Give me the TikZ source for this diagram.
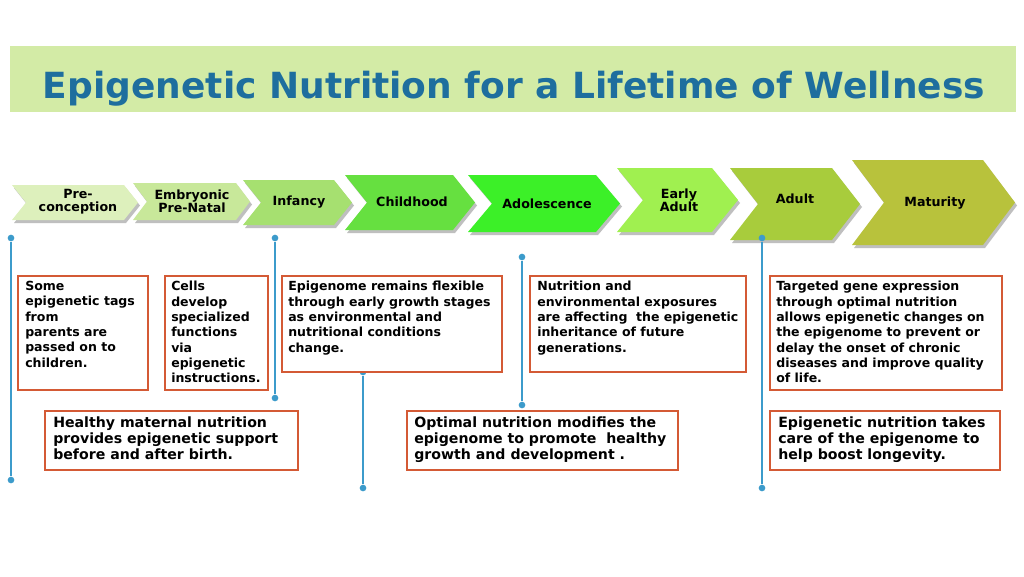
\documentclass[tikz,border=0pt]{standalone}
\usepackage{fontspec}
\setmainfont{DejaVu Sans}
\definecolor{ban}{HTML}{D3EBA6}
\definecolor{ttl}{HTML}{1E6E9E}
\definecolor{bx}{HTML}{D45A35}
\definecolor{pin}{HTML}{3C9BCB}
\definecolor{c1}{HTML}{DDF0BC}
\definecolor{c2}{HTML}{C8E89A}
\definecolor{c3}{HTML}{A6E070}
\definecolor{c4}{HTML}{66E040}
\definecolor{c5}{HTML}{3CF028}
\definecolor{c6}{HTML}{A0F050}
\definecolor{c7}{HTML}{A8CC3C}
\definecolor{c8}{HTML}{B8C23C}
\tikzset{
 frame/.style={draw=bx,line width=1.2pt,fill=white},
 txtbox/.style={anchor=north west,inner sep=0pt,align=left,font=\bfseries\fontsize{9.4}{11.5}\selectfont},
 msgbox/.style={txtbox,font=\bfseries\fontsize{10.6}{12.2}\selectfont},
 pinline/.style={draw=pin,line width=1.5pt},
 pindot/.style={fill=pin,circle,inner sep=0pt,minimum size=5pt},
 lbl/.style={font=\bfseries\fontsize{9.5}{10}\selectfont,align=center}
}
\newcommand{\chev}[7]{% xl xr yt yb depth color name
 \fill[black!25] ({#1+2},{#3+3}) -- ({#2-#5+2},{#3+3}) -- ({#2+2},{(#3+#4)/2+3}) -- ({#2-#5+2},{#4+3}) -- ({#1+2},{#4+3}) -- ({#1+#5+2},{(#3+#4)/2+3}) -- cycle;
 \fill[#6] (#1,#3) -- ({#2-#5},#3) -- (#2,{(#3+#4)/2}) -- ({#2-#5},#4) -- (#1,#4) -- ({#1+#5},{(#3+#4)/2}) -- cycle;
 \coordinate (#7) at ({(#1+#2)/2+#5/2},{(#3+#4)/2});
}
\begin{document}
\begin{tikzpicture}[x=0.75pt,y=-0.75pt]
\useasboundingbox (0,0) rectangle (1024,576);
\fill[white] (0,0) rectangle (1024,576);
\fill[ban] (10,46) rectangle (1016,112);
\node[font=\bfseries\fontsize{27}{30}\selectfont,text=ttl] (title) at (514,89) {Epigenetic Nutrition for a Lifetime of Wellness};
\chev{12}{138}{185}{220}{14}{c1}{p1}
\chev{133}{250}{183}{220}{14}{c2}{p2}
\chev{243}{352}{180}{225}{18}{c3}{p3}
\chev{345}{475}{175}{230}{22}{c4}{p4}
\chev{468}{620}{175}{232}{24}{c5}{p5}
\chev{617}{738}{168}{232}{26}{c6}{p6}
\chev{730}{860}{168}{240}{28}{c7}{p7}
\chev{852}{1015}{160}{245}{32}{c8}{p8}
\node[lbl] (l1) at (78,202) {Pre-\\conception};
\node[lbl] (l2) at (192,201) {Embryonic\\Pre-Natal};
\node[lbl] (l3) at (299,202) {Infancy};
\node[lbl] (l4) at (412,202) {Childhood};
\node[lbl] (l5) at (547,204) {Adolescence};
\node[lbl] (l6) at (679,200) {Early\\Adult};
\node[lbl] (l7) at (795,199) {Adult};
\node[lbl] (l8) at (935,203) {Maturity};
% pins
\node[pindot] (d1) at (11,238) {}; \node[pindot] (e1) at (11,480) {};
\draw[pinline] (d1) -- (e1);
\node[pindot] (d2) at (275,238) {}; \node[pindot] (e2) at (275,398) {};
\draw[pinline] (d2) -- (e2);
\node[pindot] (d3) at (522,257) {}; \node[pindot] (e3) at (522,405) {};
\draw[pinline] (d3) -- (e3);
\node[pindot] (d4) at (363,372) {}; \node[pindot] (e4) at (363,488) {};
\draw[pinline] (d4) -- (e4);
\node[pindot] (d5) at (762,238) {}; \node[pindot] (e5) at (762,488) {};
\draw[pinline] (d5) -- (e5);
% frames
\draw[frame] (18,276) rectangle (148,390);
\draw[frame] (165,276) rectangle (268,390);
\draw[frame] (282,276) rectangle (502,372);
\draw[frame] (530,276) rectangle (746,372);
\draw[frame] (770,276) rectangle (1002,390);
\draw[frame] (45,411) rectangle (298,470);
\draw[frame] (407,411) rectangle (678,470);
\draw[frame] (770,411) rectangle (1000,470);
% texts
\node[txtbox] (A) at (25,281) {Some\\epigenetic tags\\from\\parents are\\passed on to\\children.};
\node[txtbox] (B) at (171,281) {Cells\\develop\\specialized\\functions\\via\\epigenetic\\instructions.};
\node[txtbox] (C) at (288,281) {Epigenome remains flexible\\through early growth stages\\as environmental and\\nutritional conditions\\change.};
\node[txtbox] (D) at (537,281) {Nutrition and\\environmental exposures\\are affecting~ the epigenetic\\inheritance of future\\generations.};
\node[txtbox] (E) at (776,281) {Targeted gene expression\\through optimal nutrition\\allows epigenetic changes on\\the epigenome to prevent or\\delay the onset of chronic\\diseases and improve quality\\of life.};
\node[msgbox] (F) at (53,416) {Healthy maternal nutrition\\provides epigenetic support\\before and after birth.};
\node[msgbox] (G) at (414,416) {Optimal nutrition modifies the\\epigenome to promote~ healthy\\growth and development .};
\node[msgbox] (H) at (778,416) {Epigenetic nutrition takes\\care of the epigenome to\\help boost longevity.};
\end{tikzpicture}
\end{document}
